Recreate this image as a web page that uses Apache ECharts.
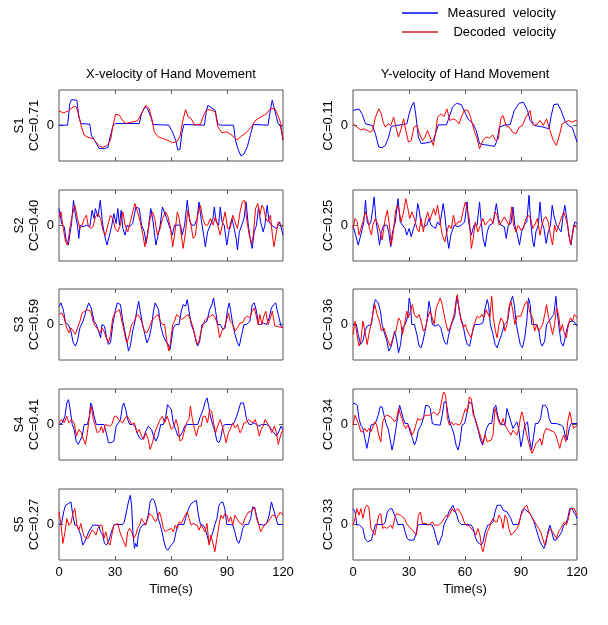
<!DOCTYPE html>
<html>
<head>
<meta charset="utf-8">
<script src="https://cdn.jsdelivr.net/npm/echarts@6/dist/echarts.min.js"></script>
<style>html,body{margin:0;padding:0;background:#fff}#c{width:608px;height:625px}</style>
</head>
<body>
<div id="c"></div>
<script>
// ---------- data ----------
const timeTicks = [0, 30, 60, 90, 120];
const velocityTicks = [0];
const subjects = ['S1', 'S2', 'S3', 'S4', 'S5'];
const ccX = ['0.71', '0.40', '0.59', '0.41', '0.27'];
const ccY = ['0.11', '0.25', '0.36', '0.34', '0.33'];
const columnTitles = ['X-velocity of Hand Movement', 'Y-velocity of Hand Movement'];
const seriesNames = ['Measured  velocity', 'Decoded  velocity'];

// [time (s), velocity (arbitrary units)]
const s1XMeasured = [[0,1],[4.6,1],[5.8,66],[6.7,78],[9.6,76],[10.6,26],[11.7,6],[16.5,4],[17.3,-29],[18.8,-42],[20.5,-59],[21.4,-69],[24.4,-70],[26.2,-66],[27.4,-34],[29,1],[30.3,6],[43,6],[44.2,36],[46,56],[47.4,51],[49.2,26],[50.4,3],[58.9,1],[60.7,-19],[62.5,-44],[63.7,-74],[64.8,-72],[65.8,-24],[66.9,3],[77.9,1],[79,46],[79.8,61],[81.4,54],[83.7,46],[85,6],[86.4,1],[93.5,1],[94.5,-44],[96.1,-74],[97.5,-92],[99.1,-86],[100.9,-64],[102.7,-24],[104.1,3],[112,1],[112.9,36],[114.2,76],[115.2,71],[116.5,26],[117.3,6],[118.6,1],[120,-44]];
const s1XDecoded = [[0,44],[2.3,38],[5,44],[7.6,56],[9,58],[10.3,38],[12,-4],[13.5,-29],[15.6,-36],[18.2,-39],[20,-52],[21.8,-62],[23.5,-66],[25.8,-60],[27.6,-44],[28.8,-4],[30.3,34],[32.4,31],[34.2,14],[35.9,6],[39.5,11],[42.1,14],[44.2,36],[46.5,61],[48.3,51],[49.7,21],[51,-19],[53.1,-34],[55.4,-39],[58,-44],[60.7,-52],[63,-49],[64.8,-34],[66.2,11],[67.8,48],[69.2,26],[70.8,21],[72.6,1],[75.8,4],[77.9,36],[79.3,48],[81.9,46],[83.7,41],[85.1,-4],[87.3,-22],[89.9,-19],[92.6,-29],[95.2,-44],[97.3,-34],[100.2,-22],[103.2,-4],[105,14],[107.6,24],[110.8,34],[113.3,51],[115.6,51],[117.3,31],[118.8,6],[120,-44]];
const s1YMeasured = [[0,45],[3.2,50],[5,33],[6.7,5],[10.3,0],[12,-25],[13.8,-65],[15.6,-67],[17.3,-60],[19.1,-35],[20.5,-3],[22.7,0],[27.1,3],[28.8,5],[30.1,35],[31.5,60],[32.6,70],[33.6,35],[35,-35],[36.5,-55],[38.6,-53],[41.2,-50],[43,-45],[44.2,-25],[45.7,2],[50.1,2],[51.5,25],[53.3,55],[55.4,67],[58,63],[59.5,45],[61.6,20],[64.3,5],[66,-15],[67.8,-55],[70.4,-58],[73.1,-60],[75.8,-63],[77.2,-45],[78.4,-5],[81.1,1],[84.2,3],[86.4,45],[89,67],[91.3,70],[93.5,45],[94.9,15],[97,0],[100.5,-3],[103.2,-7],[105,-10],[106.2,30],[107.6,63],[109.7,65],[111.5,45],[113.8,10],[115.6,0],[117.3,-5],[118.6,-25],[120,-50]];
const s1YDecoded = [[0,5],[2.3,-5],[4.1,-13],[5.8,-10],[7.6,-15],[9.4,-20],[10.6,-15],[12,25],[13.8,50],[15.2,35],[16.1,10],[17.3,-5],[18.8,5],[20.2,0],[21.8,25],[23.2,-10],[24.4,-35],[25.8,-10],[27.1,20],[28.3,-15],[29.7,-50],[31.2,-45],[32.6,-5],[34.2,0],[35.6,-25],[37.2,-45],[38.6,-35],[39.9,-15],[41.8,-43],[43,-60],[44.2,-25],[45.3,25],[47.1,35],[48.8,27],[50.3,50],[51.9,15],[53.7,20],[55.4,15],[56.8,5],[58,25],[59.7,47],[61.6,45],[63,25],[64.8,-13],[66.5,-40],[67.8,-70],[69.6,-45],[71.3,-35],[73.1,-38],[74.9,-28],[76.3,-45],[77.9,-40],[79.3,25],[80.4,30],[81.9,0],[83.7,-5],[85.5,-20],[87.3,-25],[89,-5],[90.8,0],[92.6,25],[94.9,45],[95.8,15],[97,0],[98.8,5],[100.2,15],[101.9,0],[103.7,20],[105.5,-15],[107.3,-45],[109,-60],[110.8,-25],[112,5],[113.8,10],[115.6,15],[117.3,10],[119.1,15],[120,13]];

const s2XMeasured = [[0,51],[1.4,6],[2.8,-4],[3.7,-39],[5,-59],[6,-19],[6.7,6],[7.8,76],[8.8,31],[9.9,1],[10.6,-39],[11.3,1],[12.9,-4],[14.7,1],[16.5,-4],[17.7,46],[18.8,21],[19.5,51],[20.9,26],[22.1,76],[23.2,11],[24.4,-29],[25.7,-59],[27.1,-29],[28.3,1],[29.4,36],[30.6,6],[31.5,51],[32.4,1],[33.3,46],[34.2,-9],[35.4,-29],[36.5,1],[37.7,-4],[39.5,6],[41.2,56],[43,51],[44.2,1],[45.7,-19],[46.7,-54],[47.8,-9],[49.2,51],[50.4,11],[51.9,-59],[53.1,-29],[54.2,1],[55.4,56],[56.3,61],[57.7,21],[58.9,1],[60.7,-29],[61.9,1],[65.1,1],[66,-29],[67.3,1],[68.7,76],[70.1,11],[71.3,1],[72.6,1],[74,21],[75,71],[76.1,21],[77.5,-29],[78.4,-64],[79.6,-19],[81.1,1],[82.5,21],[83.2,56],[84.2,11],[85.5,1],[86.4,56],[87.3,11],[88.5,1],[89.9,-59],[91.3,-9],[92.6,21],[93.5,1],[94.9,-39],[95.6,-74],[96.6,-19],[97.9,1],[99.1,21],[100.2,71],[101.4,1],[102.7,-49],[103.5,-69],[104.6,-19],[105.8,1],[106.9,56],[108,11],[109.4,-19],[110.3,1],[111.5,61],[112.6,11],[113.8,1],[116.5,-9],[118.2,11],[120,-29]];
const s2XDecoded = [[0,26],[1.1,41],[2.3,-9],[3.5,-49],[4.6,-59],[5.8,-9],[7.1,31],[8.5,61],[9.9,21],[11.2,-9],[12.4,1],[13.5,21],[14.7,31],[15.6,1],[17,-9],[18.2,-4],[19.5,26],[20.9,36],[22.3,21],[23.5,-14],[24.8,-29],[26.2,1],[27.6,31],[28.8,21],[30.1,-9],[31.5,-19],[32.9,1],[34.2,41],[35.4,1],[36.8,-19],[38.2,11],[39.5,41],[40.7,66],[42.1,41],[43.5,11],[45,-29],[46,-64],[47.4,-29],[48.8,21],[50.1,41],[51.3,21],[52.7,-29],[54.2,-9],[55.4,21],[57.2,41],[58.4,26],[59.8,-9],[60.9,-64],[61.9,-29],[63.4,41],[64.4,21],[65.5,-29],[66.5,-69],[67.8,-19],[69,46],[70.4,11],[71.9,-39],[73.1,-29],[74.3,31],[75.8,61],[77,21],[78.4,1],[79.6,1],[81.1,21],[82.5,1],[83.7,26],[85,1],[86.4,-29],[87.8,11],[89,41],[90.3,-9],[91.7,-9],[93.1,31],[94.3,11],[95.6,-9],[97,41],[98.2,71],[99.5,76],[100.5,21],[101.9,-29],[103.2,-54],[104.1,-29],[105.3,51],[106.5,66],[107.6,31],[108.7,61],[109.7,51],[110.8,21],[112,11],[113.3,31],[114.3,-29],[115.2,-64],[116.5,-19],[117.5,11],[118.9,1],[120,-4]];
const s2YMeasured = [[0,1],[1.4,-29],[2.8,-59],[3.5,-64],[4.6,-19],[5.8,11],[6.7,76],[7.6,11],[8.5,1],[9.6,11],[10.6,51],[11.3,86],[12.4,11],[13.5,-29],[14.2,-59],[15.2,-19],[16.5,1],[18.2,1],[19.1,-19],[20.2,-64],[21.2,-19],[22.7,11],[24.1,81],[25.3,11],[26.5,1],[27.9,-9],[28.8,-29],[30.1,-9],[31.2,-34],[32.4,-9],[33.6,11],[34.7,66],[35.6,41],[36.5,1],[37.7,-4],[39.5,1],[40.7,21],[41.8,1],[43,-4],[44.2,-9],[45.3,11],[46.5,1],[48.3,66],[49.2,31],[50.3,-29],[51.3,-69],[52.4,-29],[54.2,1],[56.3,-4],[58.1,1],[59.8,11],[61.1,71],[61.9,11],[63.4,-29],[64.8,1],[66.5,1],[67.8,71],[68.7,11],[69.7,-39],[70.8,-64],[71.9,-19],[73.1,1],[74.9,6],[75.8,11],[76.8,66],[77.9,21],[79.3,1],[81.1,-4],[82.1,-39],[83.2,1],[84.6,6],[85.7,56],[86.7,1],[88.1,-29],[89.2,-59],[90.3,-19],[91.7,1],[93.1,11],[94.3,91],[95.2,11],[96.3,-49],[97,-64],[98,-19],[99.3,1],[100.2,71],[101.1,11],[102.3,-9],[103.5,-54],[104.6,-19],[105.8,1],[106.7,61],[107.6,31],[109,1],[110.3,-9],[111.5,-19],[112.6,31],[113.5,61],[114.3,31],[115.6,-29],[116.8,-59],[117.9,-9],[118.9,11],[120,6]];
const s2YDecoded = [[0,-9],[1.1,21],[2.3,11],[3.2,-29],[4.2,-24],[5.3,11],[6.7,41],[7.8,21],[8.8,-9],[9.9,-29],[10.6,1],[12,21],[13.5,1],[14.5,-19],[15.6,-44],[16.5,-9],[17.3,21],[18.4,46],[19.5,1],[20.5,-59],[21.6,-19],[22.7,41],[23.7,61],[24.8,41],[25.8,11],[27.1,41],[28.3,81],[29.4,51],[30.4,21],[31.5,41],[32.9,21],[34.2,-9],[35.4,-19],[36.5,21],[37.7,-19],[38.6,11],[40,41],[41.2,16],[42.1,11],[43.2,51],[44.2,31],[45.3,61],[46.4,21],[47.8,-29],[49.2,-49],[50.3,-19],[51.3,1],[52.7,-9],[53.8,31],[54.9,1],[56.3,11],[57.7,11],[58.9,41],[60.2,71],[61.2,66],[62.3,21],[63.4,-69],[64.4,-39],[65.5,11],[66.9,-19],[68.3,1],[69.6,21],[70.8,1],[72.2,11],[73.7,21],[75,6],[76.1,41],[77.2,31],[78.4,1],[79.6,11],[81.1,26],[82.5,11],[83.7,1],[85,56],[86,1],[87.3,-19],[88.5,1],[89.9,-14],[91.3,-9],[92.6,21],[93.8,31],[95.2,21],[96.3,-9],[97.3,1],[98.8,21],[100.2,-29],[101.2,1],[102.3,21],[103.4,26],[104.6,11],[105.8,-29],[106.9,-59],[108,1],[109,-19],[110.3,1],[111.5,21],[112.9,41],[114,21],[115,1],[116.5,-59],[117.5,-29],[118.6,1],[120,-9]];

const s3XMeasured = [[0,55],[1.1,65],[2.3,45],[3.5,5],[5,0],[6.4,-20],[7.6,-55],[8.8,-65],[9.9,-50],[11.2,-10],[12.9,10],[14.7,45],[15.9,65],[17.3,50],[18.8,10],[20,0],[21.2,-20],[22.3,-40],[23,0],[24.4,-5],[25.5,-40],[26.5,-60],[27.6,-55],[28.8,0],[30.1,40],[31.2,65],[32,70],[32.9,60],[34.2,10],[35.4,-25],[36.5,-55],[37.2,-80],[38.2,-65],[39.5,-20],[40.7,10],[41.8,45],[42.7,70],[43.5,40],[44.8,0],[46,-30],[47.1,-55],[48.3,-40],[49.6,-5],[50.6,40],[51.5,65],[52.4,70],[53.3,45],[54.5,-5],[55.9,-35],[57.2,-50],[58.4,-60],[59.5,-75],[60.2,-50],[61.2,-10],[62.5,0],[64.3,0],[65.5,40],[66.5,60],[67.8,55],[68.7,75],[69.7,40],[70.8,0],[72.2,-20],[73.6,-55],[74.3,-65],[75.4,-50],[76.6,0],[77.5,0],[79.3,10],[80.7,45],[81.9,60],[82.8,80],[83.9,40],[85,0],[86.4,0],[87.8,-15],[89,-10],[90.3,45],[91.2,65],[92,40],[93.1,0],[94.3,-30],[95.6,-55],[96.6,-65],[97.9,-30],[99.1,0],[100.5,0],[102.3,10],[103.5,60],[104.6,65],[105.8,40],[106.9,0],[108,0],[109.4,5],[111.2,0],[112.6,20],[113.8,50],[115,60],[116.1,65],[116.8,45],[117.9,20],[118.9,-5],[120,-10]];
const s3XDecoded = [[0,30],[1.4,35],[2.8,20],[4.1,-10],[5.3,-25],[6.4,-10],[7.6,-20],[8.8,-30],[9.9,-10],[11.2,10],[12.4,35],[13.8,40],[14.9,45],[15.9,50],[17,40],[18.2,10],[19.5,-5],[20.9,-15],[22.3,-25],[23,-10],[24.1,-20],[25.3,-40],[26.5,-55],[27.6,-30],[28.8,20],[30.1,35],[31.2,40],[32.4,45],[33.3,20],[34.5,-10],[35.8,-45],[36.5,-55],[37.7,-30],[38.9,0],[40.4,10],[41.8,30],[43,25],[44.2,10],[45.7,-20],[47.1,-25],[48.3,-10],[49.6,10],[51,20],[51.9,25],[53.1,30],[54.2,10],[55.4,0],[56.6,0],[58,-60],[58.9,-80],[59.8,-50],[60.9,0],[61.9,10],[63,30],[64.2,25],[65.5,15],[66.9,20],[68,25],[69.2,30],[70.4,15],[71.9,-10],[73.1,-40],[74,-60],[75,-50],[76.1,-20],[77.2,0],[78.4,15],[79.6,20],[81.1,25],[82.5,30],[83.7,20],[85,0],[86,-40],[87.3,-20],[88.5,-10],[89.6,10],[90.8,35],[91.7,10],[93.1,0],[94.3,-20],[95.6,-10],[97,5],[98.4,5],[99.6,20],[100.9,25],[102.3,20],[103.5,40],[104.6,50],[105.5,30],[106.7,0],[107.6,30],[108.7,0],[109.7,25],[110.8,40],[112,0],[113.3,20],[114.3,40],[115.6,-5],[116.8,-5],[118.2,-8],[120,-8]];
const s3YMeasured = [[0,0],[1.8,0],[2.8,-30],[4.1,-60],[5.3,-50],[6.4,-20],[7.6,-5],[8.5,0],[9.9,0],[11.2,60],[12,75],[13.5,65],[14.7,40],[15.6,0],[17,-30],[18.2,-50],[19.1,-80],[20.2,-70],[21.2,-50],[22.3,-20],[23.5,-50],[24.4,-85],[25.5,-60],[26.5,-10],[27.9,0],[29.4,25],[30.1,80],[30.8,60],[31.5,0],[32.9,0],[34.2,-30],[35.4,-65],[36.5,-70],[37.5,-50],[38.6,-20],[39.6,10],[40.7,70],[41.4,50],[42.5,0],[43.9,-5],[45.7,0],[47.1,-10],[48.3,-40],[49.2,-55],[50.3,-60],[51.3,-30],[52.7,0],[54.5,25],[55.6,85],[56.6,80],[57.7,20],[58.9,0],[60.2,-40],[61.2,-60],[62.5,-65],[63.7,-30],[65.1,0],[67.8,0],[69.6,5],[70.8,50],[71.9,75],[72.6,60],[73.6,0],[75,-30],[76.1,-60],[77.2,-70],[78.4,-50],[79.6,-30],[81.1,0],[82.8,10],[84.2,65],[85.5,85],[86.4,60],[87.5,0],[88.5,-30],[89.6,-60],[90.8,-70],[92,-40],[93.1,10],[94,80],[94.9,60],[95.8,0],[97,0],[98.4,0],[99.6,-20],[100.5,-55],[101.4,-65],[102.7,-50],[103.7,0],[104.9,10],[106.2,20],[107.6,30],[108.7,85],[109.4,40],[110.4,-10],[111.5,-55],[112.6,-65],[113.3,-50],[114.3,-20],[115.6,5],[116.8,10],[118.2,10],[120,-5]];
const s3YDecoded = [[0,-30],[1.1,10],[2.1,-30],[3.2,-65],[4.2,-50],[5.3,10],[6.4,-20],[7.6,-60],[8.5,-30],[9.6,0],[10.6,30],[11.7,60],[12.9,30],[14.2,10],[15.2,-20],[16.5,-10],[17.7,-30],[18.8,-50],[20,-65],[20.9,-50],[21.9,-30],[23,-20],[24.4,20],[25.5,10],[26.5,-30],[27.6,0],[28.8,40],[29.7,20],[30.8,40],[31.8,60],[32.9,30],[34.2,20],[35.4,30],[36.5,10],[37.7,-20],[38.9,-10],[40,20],[41.2,40],[42.5,20],[43.5,0],[44.6,50],[45.7,65],[46.7,80],[47.8,60],[48.8,30],[49.9,0],[51,-20],[52,-10],[53.1,10],[54.2,30],[55.2,70],[55.9,90],[57,40],[58,10],[59.1,-10],[60.2,0],[61.2,-20],[62.3,-30],[63.4,-40],[64.4,-10],[65.5,10],[66.5,25],[67.8,20],[69,30],[70.1,20],[71.3,45],[72.2,40],[73.3,20],[74.3,85],[75.2,20],[76.3,-20],[77.2,-40],[78.2,0],[79.3,20],[80.4,10],[81.4,-20],[82.5,0],[83.5,50],[84.6,70],[85.7,40],[86.7,0],[87.8,25],[88.8,30],[89.9,25],[90.9,30],[92,60],[93.1,70],[94.2,50],[95.2,30],[96.3,20],[97.3,-20],[98.4,0],[99.5,-20],[100.5,-10],[101.6,0],[102.7,30],[103.7,60],[104.8,20],[105.8,0],[106.9,-30],[108,0],[109,50],[110.1,30],[111.2,-20],[112.2,0],[113.3,-30],[114.3,-40],[115.4,0],[116.5,20],[117.5,10],[118.6,30],[120,20]];

const s4XMeasured = [[0,0],[1.8,5],[3.2,25],[4.2,65],[5.1,75],[6,45],[7.1,0],[8.1,-15],[9.2,-50],[10.3,-60],[11.3,-55],[12.4,-35],[13.5,0],[15.2,0],[16.3,25],[17,65],[17.7,55],[18.8,25],[20,0],[24.1,0],[25.3,-25],[26.5,-55],[27.9,-55],[29.4,-50],[30.6,-5],[31.9,5],[32.9,15],[34,55],[34.7,65],[35.8,45],[36.8,15],[37.9,0],[39.5,0],[40.7,-5],[41.8,-25],[43,-40],[44.2,-45],[45.3,-40],[46.5,-20],[47.8,-5],[48.8,0],[49.6,-15],[50.6,-35],[51.9,-50],[53.1,-35],[54.5,0],[55.9,0],[57.2,25],[58.1,60],[59.1,65],[60.2,45],[61.2,5],[62.5,-15],[63.7,-35],[64.8,-35],[66,-25],[67.3,-5],[68.7,0],[74.3,0],[75.8,25],[77.2,45],[78.4,70],[79.3,80],[80.2,55],[81.1,25],[82.3,0],[83.5,-20],[84.6,-50],[85.7,-55],[86.7,-40],[87.8,-5],[89,0],[92.6,0],[93.8,5],[95.2,25],[96.3,45],[97.3,65],[98.8,65],[99.6,45],[100.5,15],[101.9,0],[103.2,0],[104.4,5],[105.8,0],[107.2,-5],[108.5,0],[111.2,0],[112.6,-5],[113.8,-15],[115.1,-25],[116.5,-35],[117.9,-20],[118.9,-5],[120,-15]];
const s4XDecoded = [[0,5],[1.4,15],[2.8,5],[4.1,25],[5.3,5],[6.7,15],[8.1,5],[9.4,-35],[10.6,-15],[12,-25],[13.1,-45],[14.2,-60],[15.2,-25],[16.3,25],[17.3,55],[18.4,15],[19.5,-5],[20.5,-25],[21.8,-20],[22.7,-5],[23.7,-25],[24.8,0],[25.8,5],[27.1,-5],[28.3,0],[29.7,25],[30.8,25],[31.9,15],[32.9,15],[34.2,5],[35.4,20],[36.5,25],[37.7,15],[38.9,0],[40.4,5],[41.8,-25],[43,-15],[44.2,-35],[45.3,-45],[46.5,-25],[47.8,-45],[48.8,-75],[50.1,-55],[51.3,-25],[52.7,-5],[54.2,15],[55.4,25],[56.6,5],[58,25],[59.1,5],[60.2,-15],[61.6,-5],[62.7,15],[63.7,-5],[64.8,-50],[66,-45],[66.9,-25],[68.3,5],[69.6,15],[70.4,55],[71.5,15],[72.6,-15],[73.6,-35],[74.9,-5],[76.1,-5],[77.2,25],[78.4,25],[79.6,5],[80.7,45],[81.8,40],[82.8,5],[83.9,-25],[85,-5],[86.4,15],[87.5,-5],[88.5,-30],[89.6,-55],[90.7,-25],[91.7,-15],[93.1,5],[94.3,-10],[95.6,0],[97,-25],[98,-15],[99.1,5],[100.2,5],[101.4,15],[102.7,10],[104.1,5],[105.1,15],[106.2,-5],[107.3,-35],[108.3,-15],[109.4,-5],[110.4,15],[111.5,5],[112.6,-5],[114,-25],[115.4,-5],[116.5,-25],[117.5,-60],[118.6,-35],[120,-15]];
const s4YMeasured = [[0,63],[1.1,63],[2.3,58],[3.2,18],[4.2,-2],[5.3,-12],[6.4,-42],[7.4,-72],[8.5,-42],[9.6,-2],[10.6,3],[12,3],[13.5,28],[14.5,53],[15.6,53],[16.6,28],[17.7,3],[18.8,-12],[19.8,-42],[20.9,-77],[21.9,-52],[23,-12],[24.1,28],[25,58],[25.8,58],[26.9,18],[27.9,3],[29.4,3],[30.6,-22],[31.9,-42],[32.9,-62],[34,-47],[35,-17],[36.5,-2],[37.7,18],[38.9,58],[40.4,56],[41.4,48],[42.5,3],[43.9,0],[46.7,-2],[47.8,28],[48.8,68],[49.9,68],[51,28],[52,3],[53.1,-12],[54.2,-32],[55.2,-62],[56.3,-77],[57.3,-52],[58.4,-2],[59.8,3],[61.2,38],[62.3,68],[63.7,63],[64.8,28],[66,3],[67.3,-22],[68.3,-47],[69.4,-62],[70.4,-57],[71.5,-12],[72.9,3],[74.3,3],[75.4,48],[76.5,58],[77.5,28],[78.9,3],[81.4,-2],[82.5,48],[83.5,53],[84.6,8],[85.7,-12],[86.7,-2],[87.8,8],[88.8,-12],[89.9,-67],[90.9,-42],[92,-2],[93.5,8],[94.5,-42],[95.6,-77],[96.6,-42],[97.7,3],[99.1,3],[100.5,18],[101.6,58],[103,58],[104.1,48],[105.1,18],[106.2,3],[109,3],[111.5,-2],[112.6,-7],[113.6,-32],[114.7,-47],[115.8,-12],[116.8,3],[120,3]];
const s4YDecoded = [[0,-2],[1.1,28],[2.1,33],[3.2,-2],[4.2,-22],[5.3,-22],[6.4,-12],[7.4,-22],[8.5,-12],[9.6,-22],[10.6,-27],[11.7,8],[12.7,-2],[13.8,-32],[14.9,-52],[15.9,8],[17,23],[18.1,28],[19.1,28],[20.2,23],[21.2,28],[22.3,8],[23.4,18],[24.4,48],[25.3,43],[26.2,18],[27.3,-2],[28.3,-12],[29.4,-2],[30.6,-12],[31.5,-32],[32.6,-22],[33.6,-2],[34.7,18],[35.9,13],[37.2,18],[38.6,28],[40,28],[41.4,28],[43,38],[44.2,33],[45.3,28],[46.4,38],[47.4,68],[48.5,98],[49.6,88],[50.6,18],[51.7,-2],[52.7,8],[53.8,-2],[54.9,3],[55.9,8],[57,-2],[58.1,8],[59.1,28],[60.2,48],[61.2,38],[62.3,83],[63.4,78],[64.4,28],[65.5,18],[66.5,-2],[67.6,-22],[68.7,-42],[69.7,-57],[70.8,-32],[71.9,-52],[72.9,-57],[74,-47],[75,-32],[76.1,48],[77.2,28],[78.2,8],[79.3,-2],[80.4,18],[81.4,-2],[82.5,-12],[83.5,-22],[84.6,-32],[85.7,-17],[86.7,-22],[87.8,-32],[88.8,-12],[89.9,28],[90.6,38],[91.7,8],[92.7,-22],[93.8,-47],[94.9,-72],[95.9,-87],[97,-72],[98,-57],[99.1,-52],[100.2,-42],[101.2,-62],[102.3,-27],[103.4,-12],[104.4,-12],[105.5,-17],[106.5,-22],[107.6,-22],[108.7,-32],[109.7,-52],[110.8,-72],[111.8,-47],[112.9,-32],[114,-52],[115,8],[116.1,38],[117.2,8],[118.2,-12],[120,-2]];

const s5XMeasured = [[0,0],[1.4,3],[2.5,38],[3.5,58],[5,63],[6.4,68],[7.4,28],[8.5,-2],[9.6,-2],[10.6,-7],[11.7,-32],[12.7,-62],[13.8,-52],[14.9,-37],[15.9,-22],[17,-12],[18.1,-2],[21.2,-2],[22.3,-22],[23.4,-32],[24.4,-57],[25.5,-62],[26.5,-52],[27.6,-32],[28.7,-12],[29.7,0],[34,0],[35,8],[36.1,38],[37.2,68],[38.2,88],[38.9,58],[39.6,-22],[40.4,-72],[41.1,-57],[41.8,-67],[42.5,-32],[43.5,-12],[45,0],[46.4,0],[47.8,28],[48.8,68],[49.9,78],[51,73],[52,53],[53.1,18],[54.2,0],[55.2,-22],[56.3,-52],[57.3,-72],[58.4,-77],[59.5,-67],[60.5,-62],[61.6,-52],[62.7,-22],[63.7,0],[66.9,0],[68.3,28],[69.4,48],[70.8,63],[72.2,68],[73.6,73],[74.7,28],[75.8,0],[77.2,-2],[78.2,-12],[79.3,-32],[80.4,-57],[81.4,-52],[82.5,-22],[83.5,0],[84.6,18],[85.7,58],[86.7,66],[87.8,68],[88.8,48],[89.9,0],[91.7,0],[93.1,-2],[94.2,-22],[95.2,-47],[96.3,-57],[97.3,-42],[98.4,-12],[99.6,0],[101.4,0],[102.7,18],[103.7,53],[104.8,50],[105.8,28],[106.9,0],[108.3,0],[109.7,-2],[111.2,3],[112.6,28],[113.8,68],[114.7,73],[115.8,28],[117.2,0],[120,0]];
const s5XDecoded = [[0,38],[1.1,-2],[2.1,-57],[3.2,-22],[4.2,18],[5.3,-2],[6.4,3],[7.4,33],[8.5,48],[9.6,-2],[10.6,-17],[11.7,3],[12.7,-22],[13.5,-37],[14.5,-32],[15.6,-42],[16.6,-37],[17.7,-17],[18.8,-22],[19.8,-32],[20.9,-12],[21.9,-2],[23,-2],[24.1,-42],[25.1,-22],[26.2,-52],[27.3,-62],[28.3,-32],[29.4,-2],[30.4,0],[31.5,3],[32.6,-22],[33.6,-37],[34.7,-52],[35.8,-67],[36.8,-22],[37.9,-12],[38.9,-22],[40,-42],[41.1,-32],[42.1,-12],[43.2,-2],[44.2,18],[45.3,8],[46.4,-2],[47.4,-2],[48.5,33],[49.6,28],[50.6,33],[51.7,8],[52.7,18],[53.8,38],[54.9,18],[55.9,-12],[57,-22],[58.1,-17],[59.1,-22],[60.2,-12],[61.2,-22],[62.3,-2],[63.4,-12],[64.4,8],[65.5,3],[66.5,0],[67.6,28],[68.7,38],[69.7,18],[70.8,-2],[71.9,3],[72.9,8],[74,-2],[75,-17],[76.1,-2],[77.2,-12],[78.2,-22],[79.3,3],[80.4,-62],[81.4,-32],[82.5,-57],[83.5,-82],[84.6,-42],[85.7,-2],[86.7,28],[87.8,18],[88.8,33],[89.9,28],[90.9,8],[92,23],[93.1,-2],[94.2,28],[95.2,33],[96.3,8],[97.3,3],[98.4,-2],[99.5,18],[100.5,28],[101.6,38],[102.7,38],[103.7,33],[104.8,53],[105.8,18],[106.9,3],[108,-22],[109,-12],[110.1,-2],[111.2,3],[112.2,8],[113.3,18],[114.3,28],[115.4,28],[116.5,18],[117.5,18],[118.6,38],[120,28]];
const s5YMeasured = [[0,48],[1.1,38],[2.1,-2],[3.2,0],[4.2,-2],[5.3,-12],[6.4,-42],[7.8,-52],[8.8,-57],[9.9,-47],[11,-22],[12,0],[16.3,0],[17.3,8],[18.4,38],[19.5,46],[20.9,48],[21.9,43],[23,18],[24.1,0],[26.9,0],[27.9,-22],[29,-42],[30.1,-47],[32.6,-47],[33.6,-32],[34.7,-2],[36.1,0],[41.1,0],[42.5,-2],[43.5,-17],[44.6,-42],[45.7,-62],[46.7,-67],[47.8,-32],[48.8,0],[50.3,18],[51.3,38],[52.4,48],[53.5,58],[54.5,53],[55.6,28],[56.6,8],[58.1,0],[61.6,0],[63.4,-2],[64.4,-12],[65.5,-37],[66.5,-52],[67.6,-57],[68.7,-62],[69.7,-52],[70.8,-22],[72.2,-2],[73.6,0],[75,8],[76.1,38],[77.2,58],[78.2,60],[79.3,58],[80.4,43],[81.4,38],[82.5,38],[83.5,28],[84.6,18],[85.7,0],[88.5,0],[89.6,18],[90.6,43],[91.7,48],[92.7,43],[93.8,38],[94.9,33],[95.9,28],[97,8],[98,-12],[99.1,-32],[100.2,-52],[101.2,-62],[102.3,-72],[103.4,-57],[104.4,-22],[105.5,-2],[106.5,-2],[107.6,-47],[108.7,-47],[109.7,-42],[110.8,-32],[111.8,-22],[112.9,-2],[114,3],[115,18],[116.1,48],[117.2,50],[118.2,38],[119.3,28],[120,18]];
const s5YDecoded = [[0,-2],[1.1,18],[2.1,48],[3.2,28],[4.2,48],[5.3,18],[6.4,48],[7.4,58],[8.5,53],[9.6,-12],[10.6,-17],[11.7,-32],[12.7,-2],[13.8,28],[14.9,33],[15.9,-12],[17,-7],[18.1,-12],[19.1,-12],[20.2,-2],[21.2,-12],[22.3,18],[23.4,33],[24.4,33],[25.5,28],[26.5,23],[27.6,18],[28.7,3],[29.7,-2],[30.8,-12],[31.9,-17],[32.9,-12],[34,-32],[35,28],[36.1,38],[37.2,3],[38.2,-2],[39.3,3],[40.4,-2],[41.4,0],[42.5,8],[43.5,-2],[45.7,-2],[46.7,3],[47.8,8],[48.8,18],[49.9,28],[51,23],[52,33],[53.1,48],[54.2,38],[55.2,38],[56.3,48],[57.3,38],[58.4,28],[59.5,8],[60.5,-2],[61.6,-2],[62.7,-7],[63.7,-12],[64.8,-22],[65.8,-32],[66.9,-12],[68,-32],[69,-72],[69.7,-82],[70.8,-52],[71.9,-22],[72.9,-12],[74,8],[75,18],[76.1,8],[77.2,8],[78.2,28],[79.3,18],[80.4,-12],[81.4,28],[82.5,18],[83.5,-12],[84.6,-32],[85.7,-27],[86.7,-22],[87.8,-12],[88.8,-2],[89.9,28],[90.9,38],[92,53],[93.1,58],[94.2,38],[95.2,33],[96.3,18],[97.3,8],[98.4,-2],[99.5,-12],[100.5,-22],[101.6,-42],[102.7,-62],[103.7,-42],[104.8,-22],[105.8,-12],[106.9,-22],[108,-32],[109,-42],[110.1,-22],[111.2,-12],[112.2,-2],[113.3,8],[114.3,-2],[115.4,18],[116.5,48],[117.5,53],[118.6,48],[120,28]];

const measuredX = [s1XMeasured, s2XMeasured, s3XMeasured, s4XMeasured, s5XMeasured];
const decodedX = [s1XDecoded, s2XDecoded, s3XDecoded, s4XDecoded, s5XDecoded];
const measuredY = [s1YMeasured, s2YMeasured, s3YMeasured, s4YMeasured, s5YMeasured];
const decodedY = [s1YDecoded, s2YDecoded, s3YDecoded, s4YDecoded, s5YDecoded];
const velocityLimit = 107;

// ---------- layout / style ----------
const FONT = "'Liberation Sans', Arial, Helvetica, sans-serif";
const BLUE = '#0000ff', RED = '#ff0000', FRAME = '#555555';
const colLeft = [59, 353];
const panelW = 224, panelH = 71;
const rowTop = [90, 190, 289, 389, 489];

const grids = [], xAxes = [], yAxes = [], series = [];
for (let r = 0; r < 5; r++) {
  for (let c = 0; c < 2; c++) {
    const gi = grids.length;
    grids.push({left: colLeft[c], top: rowTop[r], width: panelW, height: panelH,
      show: true, borderColor: FRAME, borderWidth: 1, backgroundColor: 'transparent'});
    const last = r === 4;
    const xTick = {show: true, inside: true, length: 4, lineStyle: {color: FRAME},
      customValues: timeTicks.slice(1, -1)};
    const yTick = {show: true, inside: true, length: 4, lineStyle: {color: FRAME},
      customValues: velocityTicks};
    xAxes.push({type: 'value', gridIndex: gi, position: 'bottom',
      min: timeTicks[0], max: timeTicks[timeTicks.length - 1], interval: timeTicks[1] - timeTicks[0],
      axisLine: {show: false, onZero: false}, splitLine: {show: false}, axisTick: xTick,
      axisLabel: {show: last, color: '#000', fontFamily: FONT, fontSize: 13, margin: 6},
      name: last ? 'Time(s)' : '', nameLocation: 'middle', nameGap: 23,
      nameTextStyle: {color: '#000', fontFamily: FONT, fontSize: 13}});
    xAxes.push({type: 'value', gridIndex: gi, position: 'top',
      min: timeTicks[0], max: timeTicks[timeTicks.length - 1], interval: timeTicks[1] - timeTicks[0],
      axisLine: {show: false, onZero: false}, splitLine: {show: false}, axisTick: xTick, axisLabel: {show: false}});
    const yName = c === 0 ? subjects[r] + '\nCC=' + ccX[r] : 'CC=' + ccY[r];
    yAxes.push({type: 'value', gridIndex: gi, position: 'left',
      min: -velocityLimit, max: velocityLimit,
      axisLine: {show: false, onZero: false}, splitLine: {show: false}, axisTick: yTick,
      axisLabel: {show: true, color: '#000', fontFamily: FONT, fontSize: 13, margin: 5,
        customValues: velocityTicks},
      name: yName, nameLocation: 'middle', nameRotate: 90, nameGap: 17,
      nameTextStyle: {color: '#000', fontFamily: FONT, fontSize: 13, lineHeight: 15}});
    yAxes.push({type: 'value', gridIndex: gi, position: 'right',
      min: -velocityLimit, max: velocityLimit,
      axisLine: {show: false, onZero: false}, splitLine: {show: false}, axisTick: yTick, axisLabel: {show: false}});
    const meas = c === 0 ? measuredX[r] : measuredY[r];
    const dec = c === 0 ? decodedX[r] : decodedY[r];
    series.push({name: seriesNames[0], type: 'line', xAxisIndex: 2 * gi, yAxisIndex: 2 * gi,
      data: meas, showSymbol: false, symbol: 'none', lineStyle: {color: BLUE, width: 1}, z: 3});
    series.push({name: seriesNames[1], type: 'line', xAxisIndex: 2 * gi, yAxisIndex: 2 * gi,
      data: dec, showSymbol: false, symbol: 'none', lineStyle: {color: RED, width: 1}, z: 4});
  }
}

const graphics = [
  {type: 'line', shape: {x1: 402, y1: 13, x2: 438, y2: 13}, style: {stroke: BLUE, lineWidth: 1.3}},
  {type: 'line', shape: {x1: 402, y1: 32, x2: 438, y2: 32}, style: {stroke: '#d42020', lineWidth: 1.3}},
  {type: 'text', x: 556, y: 13, style: {text: seriesNames[0], font: '13px ' + FONT, fill: '#000', align: 'right', verticalAlign: 'middle'}},
  {type: 'text', x: 556, y: 32, style: {text: seriesNames[1], font: '13px ' + FONT, fill: '#000', align: 'right', verticalAlign: 'middle'}},
  {type: 'text', x: colLeft[0] + panelW / 2, y: 74, style: {text: columnTitles[0], font: '13px ' + FONT, fill: '#000', align: 'center', verticalAlign: 'middle'}},
  {type: 'text', x: colLeft[1] + panelW / 2, y: 74, style: {text: columnTitles[1], font: '13px ' + FONT, fill: '#000', align: 'center', verticalAlign: 'middle'}}
];

const chart = echarts.init(document.getElementById('c'), null, {renderer: 'canvas'});
chart.setOption({
  animation: false,
  backgroundColor: '#fff',
  grid: grids, xAxis: xAxes, yAxis: yAxes, series: series,
  graphic: graphics
});
</script>
</body>
</html>
